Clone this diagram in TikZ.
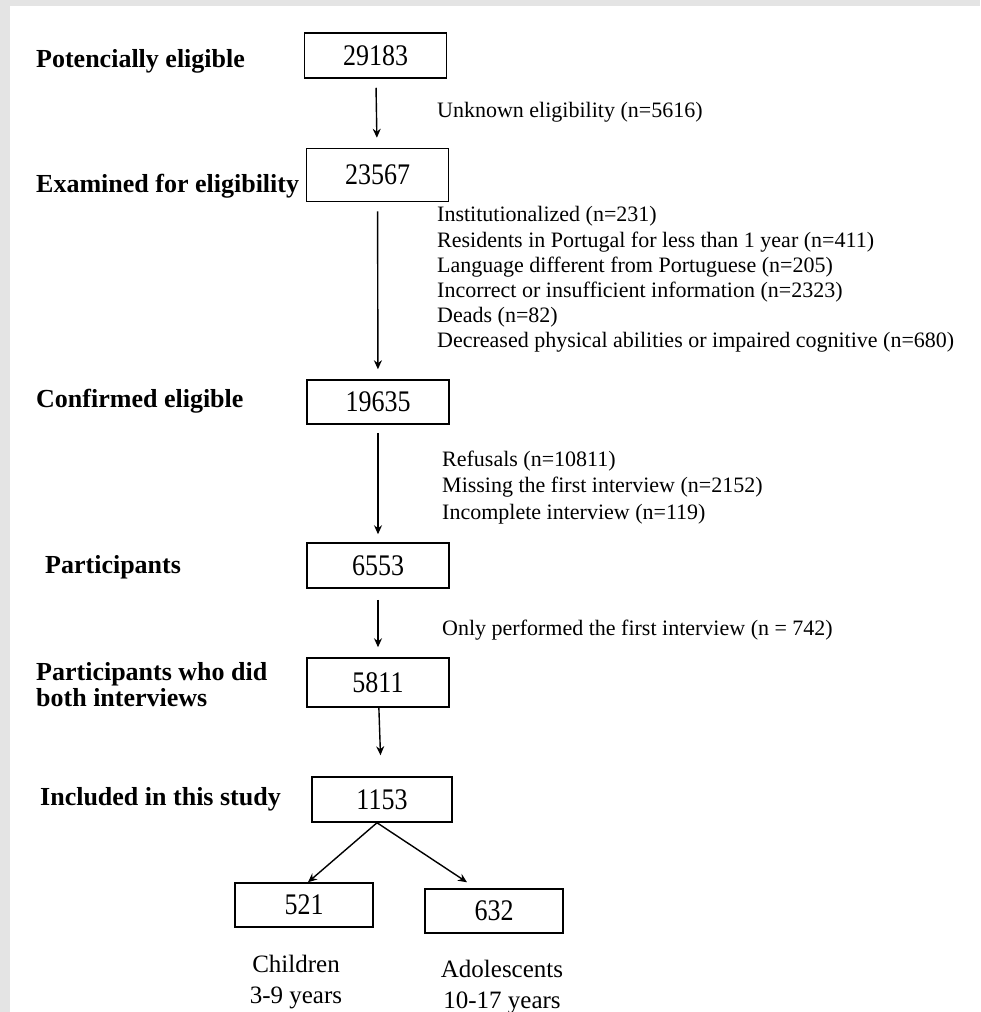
\documentclass[tikz,border=0pt]{standalone}
\usepackage{fontspec}
\setmainfont{Liberation Serif}
\usetikzlibrary{arrows.meta}
\definecolor{frame}{HTML}{E4E4E4}
\newcommand{\tallnum}[1]{\scalebox{1}[1.15]{#1}}
\begin{document}
\begin{tikzpicture}[x=1pt,y=-1pt,
    numbox/.style={draw,line width=1.5pt,minimum width=142pt,minimum height=45pt,inner sep=0pt,font=\fontsize{26}{30}\selectfont},
    stage/.style={anchor=base west,inner sep=0pt,align=left,font=\bfseries\fontsize{26}{26}\selectfont},
    note/.style={anchor=north west,inner sep=0pt,align=left,font=\fontsize{22}{25.2}\selectfont},
    group/.style={anchor=north,inner sep=0pt,align=center,font=\fontsize{25}{31}\selectfont},
    flow/.style={draw,line width=1.4pt,-{Stealth[length=9pt,width=8pt]}}]
  % page frame
  \fill[frame] (0,0) rectangle (980,1012);
  \fill[white] (10,6) rectangle (980,1012);
  \useasboundingbox (0,0) rectangle (980,1012);

  % counts
  \node[numbox] (n1) at (375.5,55.5) {\tallnum{29183}};
  \node[numbox,minimum height=53pt] (n2) at (377.5,175) {\tallnum{23567}};
  \node[numbox,minimum height=44pt] (n3) at (378,402) {\tallnum{19635}};
  \node[numbox] (n4) at (378,565.5) {\tallnum{6553}};
  \node[numbox,minimum height=49pt] (n5) at (378,682.5) {\tallnum{5811}};
  \node[numbox,minimum width=140pt] (n6) at (382,799.5) {\tallnum{1153}};
  \node[numbox,minimum width=138pt,minimum height=44pt] (c) at (304,905) {\tallnum{521}};
  \node[numbox,minimum width=138pt,minimum height=44pt] (a) at (494,911) {\tallnum{632}};

  % stage labels
  \node[stage] (s1) at (36,67) {Potencially eligible};
  \node[stage] (s2) at (36,192) {Examined for eligibility};
  \node[stage] (s3) at (36,407) {Confirmed eligible};
  \node[stage] (s4) at (45,573) {Participants};
  \node[stage] (s5) at (36,706) {Participants who did\\both interviews};
  \node[stage] (s6) at (40,805) {Included in this study};

  % exclusions
  \node[note,anchor=base west] (e1) at (437,117) {Unknown eligibility (n=5616)};
  \node[note] (e2) at (437,206.5) {Institutionalized (n=231)\\
    Residents in Portugal for less than 1 year (n=411)\\
    Language different from Portuguese (n=205)\\
    Incorrect or insufficient information (n=2323)\\
    Deads (n=82)\\
    Decreased physical abilities or impaired cognitive (n=680)};
  \node[note,font=\fontsize{22}{26.5}\selectfont] (e3) at (442,450.5) {Refusals (n=10811)\\
    Missing the first interview (n=2152)\\
    Incomplete interview (n=119)};
  \node[note,anchor=base west] (e4) at (442,635) {Only performed the first interview (n = 742)};

  % groups
  \node[group] (g1) at (296,955) {Children\\3-9 years};
  \node[group] (g2) at (502,960) {Adolescents\\10-17 years};

  % flow
  \draw[flow,shorten <=9pt,shorten >=10pt] (n1) -- (n2);
  \draw[flow,shorten <=9pt,shorten >=10pt] (n2) -- (n3);
  \draw[flow,shorten <=8pt,shorten >=8pt] (n3) -- (n4);
  \draw[flow,shorten <=11pt,shorten >=10pt] (n4) -- (n5);
  \draw[flow,shorten >=21pt] (n5) -- (n6);
  \draw[flow] ([xshift=-5pt]n6.south) -- ([xshift=4pt]c.north);
  \draw[flow] ([xshift=-5pt]n6.south) -- ([xshift=-27pt,yshift=6pt]a.north);
\end{tikzpicture}
\end{document}
